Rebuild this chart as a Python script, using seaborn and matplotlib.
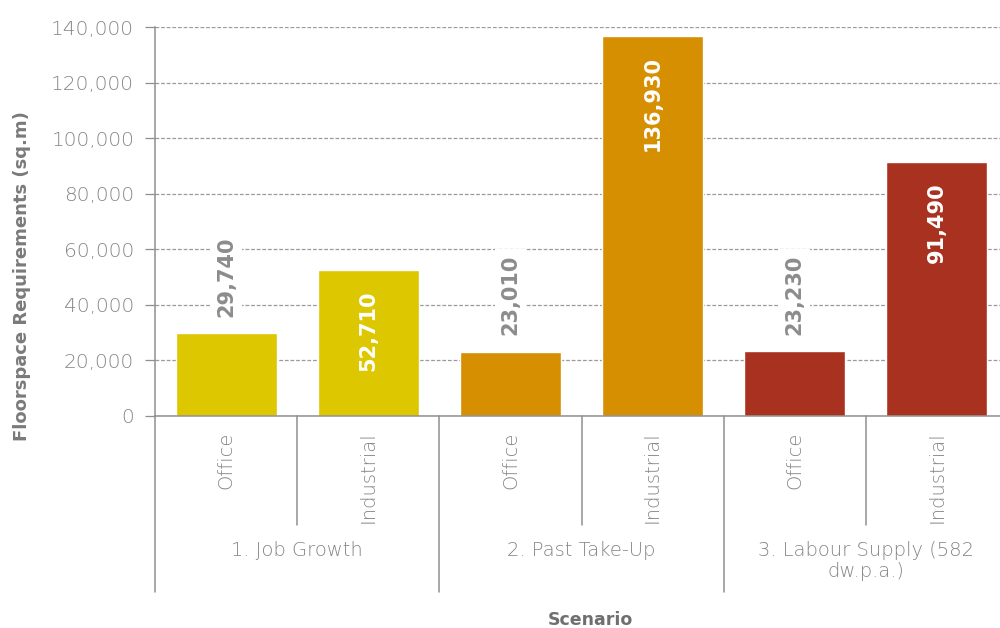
import matplotlib
matplotlib.use("Agg")
import matplotlib.pyplot as plt
import matplotlib.transforms as mtransforms
from matplotlib.ticker import FuncFormatter, MultipleLocator
import pandas as pd
import seaborn as sns

# Floorspace requirements by scenario and use type (sq.m)
scenarios = ["1. Job Growth", "2. Past Take-Up", "3. Labour Supply (582\ndw.p.a.)"]
use_types = ["Office", "Industrial"]
office = [29740, 23010, 23230]
industrial = [52710, 136930, 91490]
scenario_colors = ["#DCC700", "#D68F00", "#A9311F"]

rows = []
for s, o, i in zip(scenarios, office, industrial):
    rows.append({"bar": f"{s}|Office", "scenario": s, "use": "Office", "value": o})
    rows.append({"bar": f"{s}|Industrial", "scenario": s, "use": "Industrial", "value": i})
df = pd.DataFrame(rows)
bar_colors = [scenario_colors[scenarios.index(s)] for s in df["scenario"]]

sns.set_theme(style="white")
plt.rcParams["font.family"] = ["DejaVu Sans"]

GREY = "#858585"
LINE = "#8f8f8f"

fig = plt.figure(figsize=(10, 6.28), dpi=100)
ax = fig.add_axes([0.155, 0.3376, 0.853, 0.6194])

sns.barplot(data=df, x="bar", y="value", hue="bar", palette=bar_colors,
            legend=False, width=0.71, saturation=1, ax=ax, zorder=2)

ax.set_ylim(0, 140000)
ax.set_xlim(-0.5, len(df) - 0.5)
ax.yaxis.set_major_locator(MultipleLocator(20000))
ax.yaxis.set_major_formatter(FuncFormatter(lambda v, p: f"{int(v):,}"))
ax.yaxis.grid(True, linestyle=(0, (3, 1.5)), color="#9a9a9a", linewidth=0.9)
ax.set_axisbelow(True)

for side in ["top", "right"]:
    ax.spines[side].set_visible(False)
for side in ["left", "bottom"]:
    ax.spines[side].set_color(LINE)
    ax.spines[side].set_linewidth(1.1)

ax.tick_params(axis="y", which="both", left=True, length=7, width=0.9,
               color=LINE, labelsize=14.5, labelcolor=GREY, pad=8)
ax.tick_params(axis="x", length=0, pad=11, labelsize=14, labelcolor=GREY)
ax.set_xticks(range(len(df)))
ax.set_xticklabels(df["use"], rotation=90)
for lab in ax.get_yticklabels() + ax.get_xticklabels():
    lab.set_fontweight("light")

ax.set_xlabel("")
ax.set_ylabel("")

# Value labels: office above the bar, industrial inside the bar
for idx, row in df.iterrows():
    label = f"{row['value']:,}"
    if row["use"] == "Office":
        ax.annotate(label, (idx, row["value"]), xytext=(0, 12), textcoords="offset points",
                    rotation=90, ha="center", va="bottom", fontsize=15, fontweight="bold",
                    color="#8c8c8c", zorder=3,
                    bbox=dict(facecolor="white", edgecolor="none", pad=4))
    else:
        ax.annotate(label, (idx, row["value"]), xytext=(0, -15), textcoords="offset points",
                    rotation=90, ha="center", va="top", fontsize=15, fontweight="bold",
                    color="white", zorder=3)

# Two-level category axis: separators and scenario names
trans = mtransforms.blended_transform_factory(ax.transData, ax.transAxes)
for k in range(len(scenarios)):
    inner = 2 * k + 0.5
    ax.plot([inner, inner], [0, -0.28], transform=trans, color=LINE, lw=1.1, clip_on=False)
for k in range(len(scenarios) + 1):
    outer = 2 * k - 0.5
    ax.plot([outer, outer], [0, -0.452], transform=trans, color=LINE, lw=1.1, clip_on=False)
for k, s in enumerate(scenarios):
    ax.text(2 * k + 0.5, -0.322, s, transform=trans, ha="center", va="top",
            fontsize=14, fontweight="light", color=GREY, linespacing=1.15)

fig.text(0.022, 1 - 276 / 628, "Floorspace Requirements (sq.m)", rotation=90,
         ha="center", va="center", fontsize=13, fontweight="bold", color="#7a7a7a")
fig.text(0.59, 1 - 620 / 628, "Scenario", ha="center", va="center",
         fontsize=12.5, fontweight="bold", color="#6f6f6f")

fig.savefig("out.png", dpi=100)
